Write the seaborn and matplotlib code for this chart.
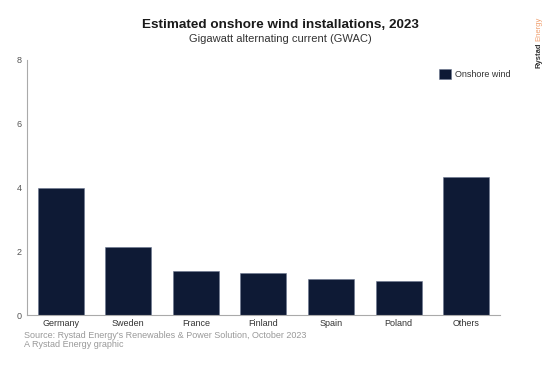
import numpy as np
import pandas as pd
import matplotlib
matplotlib.use("Agg")
import matplotlib.pyplot as plt
import seaborn as sns

countries = ["Germany", "Sweden", "France", "Finland", "Spain", "Poland", "Others"]
gwac = [4.0, 2.13, 1.38, 1.31, 1.13, 1.07, 4.32]
yticks = [0, 2, 4, 6, 8]

sns.set_style("white")
plt.rcParams["font.family"] = ["Liberation Sans", "DejaVu Sans"]

df = pd.DataFrame({"Country": countries, "GWAC": gwac, "Series": "Onshore wind"})

fig = plt.figure(figsize=(5.6, 3.82), dpi=100)
ax = fig.add_axes([0.048, 0.175, 0.845, 0.668])

navy = "#07183c"
sns.barplot(data=df, x="Country", y="GWAC", hue="Series", palette=[navy],
            width=0.68, ax=ax, edgecolor="#6b7590", linewidth=0.4)

ax.set_ylim(0, 8)
ax.set_xlim(-0.5, 6.5)
ax.set_yticks(yticks)
ax.set_xlabel("")
ax.set_ylabel("")
ax.tick_params(axis="y", labelsize=6.5, colors="#444444", length=2, width=0.6, pad=2)
ax.tick_params(axis="x", labelsize=6.5, colors="#333333", length=0, pad=3)
for lab in ax.get_yticklabels():
    lab.set_color("#555555")
sns.despine(ax=ax)
for s in ["left", "bottom"]:
    ax.spines[s].set_color("#aaaaaa")
    ax.spines[s].set_linewidth(0.8)

leg = ax.legend(loc="upper right", bbox_to_anchor=(1.04, 0.995), frameon=False,
                fontsize=6.5, handlelength=1.3, handleheight=1.3, handletextpad=0.5)
for t in leg.get_texts():
    t.set_color("#333333")

fig.text(0.5, 0.935, "Estimated onshore wind installations, 2023", ha="center",
         va="center", fontsize=9.7, fontweight="bold", color="#1a1a1a")
fig.text(0.5, 0.898, "Gigawatt alternating current (GWAC)", ha="center",
         va="center", fontsize=8, color="#333333")
fig.text(0.043, 0.122, "Source: Rystad Energy's Renewables & Power Solution, October 2023",
         fontsize=6.5, color="#999999", va="center")
fig.text(0.043, 0.097, "A Rystad Energy graphic", fontsize=6.5, color="#999999", va="center")
fig.text(0.963, 0.822, "Rystad", rotation=90, fontsize=5.5, fontweight="bold",
         color="#333333", ha="center", va="bottom")
fig.text(0.963, 0.892, "Energy", rotation=90, fontsize=5.5, color="#f0a070",
         ha="center", va="bottom")

fig.savefig("out.png", dpi=100)
